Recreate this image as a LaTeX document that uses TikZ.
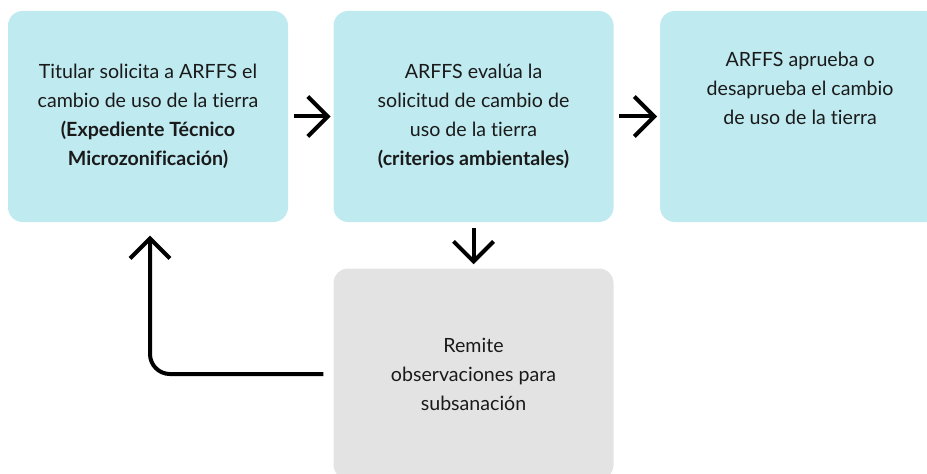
\documentclass[tikz,border=0pt]{standalone}
\usepackage{fontspec}
\setmainfont{Lato}[Ligatures={NoCommon,NoContextual}]
\usetikzlibrary{arrows.meta,positioning}
\definecolor{boxcyan}{HTML}{BFEAF0}
\definecolor{boxgray}{HTML}{E3E3E3}
\definecolor{inkdark}{HTML}{1A1A1A}
\begin{document}
\begin{tikzpicture}[
		x=0.75pt, y=-0.75pt,
		stepbox/.style={rectangle, rounded corners=11pt, fill=boxcyan, minimum width=210pt, minimum height=158.25pt, inner sep=0pt, align=center, text=inkdark, font=\fontsize{14.7}{21.75}\selectfont},
		graybox/.style={stepbox, fill=boxgray},
		flow/.style={-{Straight Barb[length=15pt,width=30pt]}, line width=3pt},
	]
	\useasboundingbox (0,0) rectangle (927,474);

	\node[stepbox] (sol) at (148,116.5) {Titular solicita a ARFFS el\\cambio de uso de la tierra\\\textbf{(Expediente Técnico}\\\textbf{Microzonificación)}};
	\node[stepbox, right=33.75pt of sol] (eva) {ARFFS evalúa la\\solicitud de cambio de\\uso de la tierra\\\textbf{(criterios ambientales)}};
	\node[stepbox, right=34.5pt of eva] (apr) {};
	\node[align=center, inner sep=0pt, text=inkdark, font=\fontsize{14.7}{21.75}\selectfont, below=31pt of apr.north] (aprtxt) {ARFFS aprueba o\\desaprueba el cambio\\de uso de la tierra};
	\node[graybox, below=34.5pt of eva] (rem) {Remite\\observaciones para\\subsanación};

	\draw[flow] ([xshift=4pt]sol.east) -- ([xshift=-2pt]eva.west);
	\draw[flow] ([xshift=4pt]eva.east) -- ([xshift=-2pt]apr.west);
	\draw[flow] ([yshift=-4pt]eva.south) -- ([yshift=3pt]rem.north);
	\draw[flow, rounded corners=15pt] ([xshift=-7.5pt]rem.west) -| ([xshift=1.5pt, yshift=-10pt]sol.south);
\end{tikzpicture}
\end{document}
